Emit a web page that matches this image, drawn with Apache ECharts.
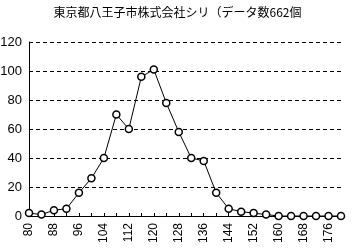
<!DOCTYPE html>
<html><head><meta charset="utf-8">
<script src="https://cdn.jsdelivr.net/npm/echarts@6/dist/echarts.min.js"></script>
<style>html,body{margin:0;padding:0;background:#fff}#c{width:355px;height:251px}</style>
</head><body><div id="c"></div>
<script>
const titleText = "東京都八王子市株式会社シリ（データ数662個";
const categories = ["80","84","88","92","96","100","104","108","112","116","120","124","128","132","136","140","144","148","152","156","160","164","168","172","176","180"];
const counts = [2,1,4,5,16,26,40,70,60,96,101,78,58,40,38,16,5,3,2,1,0,0,0,0,0,0];
const yTicks = {min:0, max:120, interval:20};

const chart = echarts.init(document.getElementById('c'), null, {renderer:'canvas'});
chart.setOption({
  animation:false,
  backgroundColor:'#fff',
  title:{text:titleText, left:'center', top:1,
    textStyle:{fontFamily:'Noto Sans CJK JP', fontSize:12, fontWeight:'normal', color:'#000'}},
  grid:{left:29, right:14, top:42, bottom:35, containLabel:false, outerBoundsMode:'none'},
  xAxis:{type:'category', data:categories, boundaryGap:false,
    axisLine:{lineStyle:{color:'#000', width:1}},
    axisTick:{show:true, inside:true, length:3, interval:0, lineStyle:{color:'#000'}},
    axisLabel:{rotate:90, interval:1, color:'#000', fontSize:12, fontFamily:'Liberation Sans', margin:7},
    splitLine:{show:false}},
  yAxis:{type:'value', min:yTicks.min, max:yTicks.max, interval:yTicks.interval,
    axisLine:{show:true, lineStyle:{color:'#000', width:1}},
    axisTick:{show:false},
    axisLabel:{color:'#000', fontSize:13, fontFamily:'Liberation Sans', margin:7},
    splitLine:{show:true, lineStyle:{color:'#000', type:[4,3], width:1}}},
  series:[{type:'line', data:counts, symbol:'circle', symbolSize:7,
    lineStyle:{color:'#000', width:1},
    itemStyle:{color:'#fff', borderColor:'#000', borderWidth:1.5}}]
});
</script></body></html>
